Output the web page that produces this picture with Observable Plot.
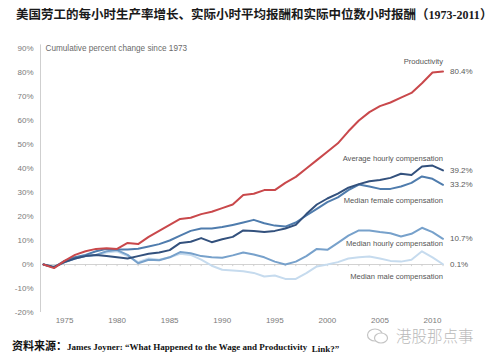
<!DOCTYPE html>
<html>
<head>
<meta charset="utf-8">
<script src="https://cdn.jsdelivr.net/npm/d3@7"></script>
<script src="https://cdn.jsdelivr.net/npm/@observablehq/plot@0.6"></script>
<style>
  html, body { margin: 0; padding: 0; background: #fff; }
  #wrap { position: relative; width: 493px; height: 361px; overflow: hidden; }
  #chart { position: absolute; left: 0; top: 0; }
  #title { position: absolute; left: 16px; top: 4px; white-space: nowrap;
    font-family: "Noto Sans CJK SC", sans-serif; font-weight: 700; font-size: 12.5px; color: #1a1a1a; }
  #title .lat { font-family: "Liberation Serif", serif; font-weight: 700; font-size: 12px; }
  #caption { position: absolute; left: 12px; top: 337px; white-space: nowrap; color: #111;
    font-family: "Liberation Serif", serif; font-weight: 700; font-size: 9px; }
  #caption .cjk { font-family: "Noto Sans CJK SC", sans-serif; font-size: 11px; font-weight: 700; }
  #caption .low { position: relative; top: 2px; }
  #mark { position: absolute; left: 366px; top: 324px; white-space: nowrap; color: #b9b9b9;
    font-family: "Noto Sans CJK SC", sans-serif; font-weight: 300; font-size: 15.5px; }
  #mark svg { vertical-align: -3px; margin-right: 6px; }
</style>
</head>
<body>
<div id="wrap">
  <div id="chart"></div>
  <div id="title">美国劳工的每小时生产率增长、实际小时平均报酬和实际中位数小时报酬<span>（</span><span class="lat">1973-2011</span><span>）</span></div>
  <div id="caption"><span class="cjk">资料来源：</span>James Joyner: “What Happened to the Wage and Productivity&nbsp; <span class="low">Link?”</span></div>
  <div id="mark"><svg width="24" height="18" viewBox="0 0 24 18"><ellipse cx="9" cy="8" rx="7.5" ry="6" fill="none" stroke="#c4c4c4" stroke-width="1.2"/><ellipse cx="15" cy="11" rx="6.5" ry="5" fill="#fff" stroke="#c4c4c4" stroke-width="1.2"/></svg>港股那点事</div>
</div>
<script>
const years = d3.range(1973, 2012);

const productivity = [0, -1.5, 1.5, 4, 5.5, 6.5, 6.8, 6.5, 9, 8.5, 11.5, 14, 16.5, 19, 19.5, 21, 22, 23.5, 25, 29, 29.5, 31, 31, 34, 36.5, 40, 43.5, 47, 50.5, 55.5, 60, 63.5, 66, 67.5, 69.5, 71.5, 75.5, 80, 80.4];
const avgHourly = [0, -1, 1, 2.5, 3.5, 4, 3.5, 3, 2.5, 3.5, 4.5, 5, 6, 9, 9.5, 11, 9.3, 10.5, 11.5, 14.2, 14, 13.5, 14, 15, 16.5, 21, 25, 27.5, 29.5, 32, 33.5, 34.7, 35.2, 36.1, 37.8, 37.3, 40.8, 41.2, 39.2];
const medFemale = [0, -1.2, 1.5, 3, 4, 5.5, 6.5, 6.3, 6.3, 6.6, 7.5, 8.5, 10, 12, 14, 15, 15, 15.6, 16.5, 17.5, 18.6, 17.2, 16.2, 15.8, 17.5, 20.4, 23.2, 26, 28, 31, 33.3, 32.5, 31.5, 31.5, 32.5, 34, 36.7, 35.7, 33.2];
const medHourly = [0, -1.2, 1, 2.5, 3.5, 4, 5.5, 6, 4, 0.5, 2, 1.8, 3, 5.2, 4.7, 3.5, 3, 2.8, 3.8, 5, 4.2, 3, 1.2, 0, 1.2, 3.5, 6.5, 6.1, 9, 12, 14.2, 14.2, 13.5, 13, 11.7, 12.8, 15.3, 13.5, 10.7];
const medMale = [0, -1.2, 1, 2.5, 3.5, 4, 5, 5.5, 3.5, 1, 2.5, 2, 3, 4.5, 4, 2, -0.5, -2.2, -2.5, -2.8, -3.5, -5, -4.6, -6, -6, -3.6, -0.8, 0, 1, 2.5, 3, 3.3, 2.5, 1.5, 1.2, 2, 5.5, 3, 0.1];

const seriesNames = ["Median male compensation", "Median hourly compensation", "Median female compensation", "Average hourly compensation", "Productivity"];
const seriesValues = [medMale, medHourly, medFemale, avgHourly, productivity];
const seriesColors = ["#c6dbee", "#77a1cb", "#4f7cad", "#33517d", "#c9484b"];
const endLabels = ["0.1%", "10.7%", "33.2%", "39.2%", "80.4%"];
const yTicks = d3.range(-20, 91, 10);
const xTicks = d3.range(1975, 2011, 5);

const data = seriesNames.flatMap((s, i) => years.map((y, j) => ({series: s, year: y, value: seriesValues[i][j]})));
const last = seriesNames.map((s, i) => ({series: s, year: years[years.length - 1], value: seriesValues[i][years.length - 1], label: endLabels[i]}));
// offsets of series-name labels relative to the last point (in px)
const nameDy = {"Productivity": -10, "Average hourly compensation": -12, "Median female compensation": 16, "Median hourly compensation": 5, "Median male compensation": 12};

const font = "Liberation Sans, Arial, sans-serif";
const chart = Plot.plot({
  width: 493,
  height: 361,
  marginLeft: 43,
  marginRight: 50.5,
  marginTop: 48,
  marginBottom: 49,
  style: {fontFamily: font, background: "transparent", overflow: "visible"},
  x: {domain: [1973, 2011]},
  y: {domain: [-20, 90]},
  color: {domain: seriesNames, range: seriesColors},
  marks: [
    Plot.ruleX([1973], {y1: -20, y2: 91.5, dx: -3, stroke: "#cfcfcf", strokeWidth: 1}),
    Plot.ruleY([0], {stroke: "#d2d2d2", strokeWidth: 1}),
    Plot.ruleX(years, {x: d => d, y1: 0, y2: -0.9, stroke: "#cfcfcf", strokeWidth: 1}),
    Plot.axisY({ticks: yTicks, tickSize: 0, tickPadding: 10, tickFormat: d => d + "%", fontSize: 8, fill: "#7a7a7a", label: null}),
    Plot.axisX({ticks: xTicks, tickSize: 0, tickPadding: 5, tickFormat: d => String(d), fontSize: 8, fill: "#7a7a7a", label: null}),
    Plot.text(["Cumulative percent change since 1973"], {frameAnchor: "top-left", dx: 2, dy: -3, text: d => d, fontSize: 8.2, fill: "#6a6a6a", textAnchor: "start"}),
    Plot.line(data, {x: "year", y: "value", z: "series", stroke: "series", strokeWidth: 2, strokeLinejoin: "round", strokeLinecap: "round"}),
    Plot.text(last, {x: "year", y: "value", text: "label", dx: 7, textAnchor: "start", fontSize: 8, fill: "#5a5a5a"}),
    ...last.map(d => Plot.text([d], {x: "year", y: "value", text: "series", dy: nameDy[d.series], textAnchor: "end", fontSize: 7.6, fill: "#555"}))
  ]
});
document.getElementById("chart").appendChild(chart);
</script>
</body>
</html>
